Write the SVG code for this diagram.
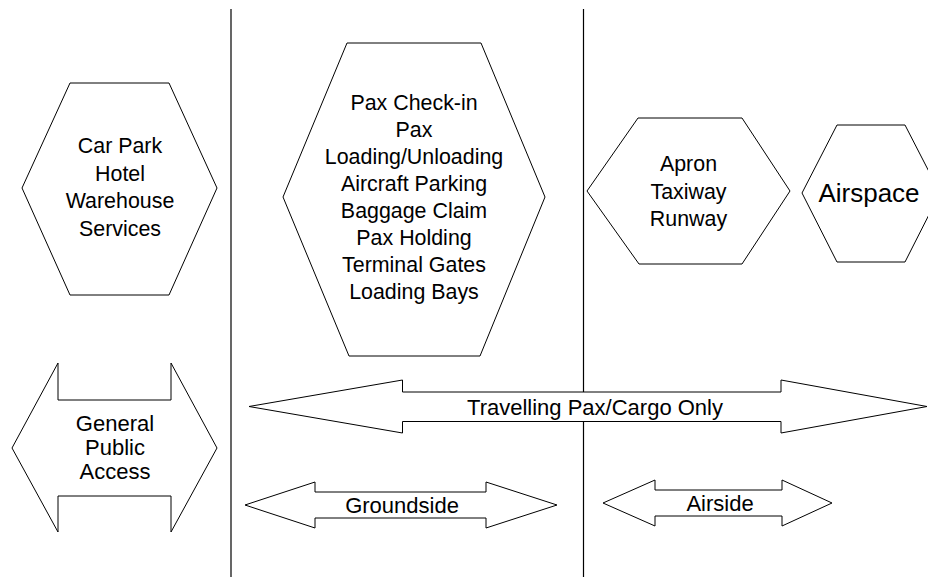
<svg xmlns="http://www.w3.org/2000/svg" width="928" height="577" viewBox="0 0 928 577">
<style>
.shape{fill:#fff;stroke:#000;stroke-width:1;stroke-linejoin:miter}
.div{stroke:#000;stroke-width:1.2;fill:none}
.t{font-family:"Liberation Sans",Arial,sans-serif;font-size:21.4px;fill:#000;text-anchor:middle}
.ta{font-family:"Liberation Sans",Arial,sans-serif;font-size:22px;fill:#000;text-anchor:middle}
</style>
<rect width="928" height="577" fill="#fff"/>
<g id="connectors">
<line class="div" x1="231" y1="9" x2="231" y2="577"/>
<line class="div" x1="583.5" y1="9" x2="583.5" y2="577"/>
</g>
<g id="node-carpark">
<polygon class="shape" points="70,83 169,83 217,188 169,295 70,295 22,188"/>
<text class="t" x="120" y="153">Car Park</text>
<text class="t" x="120" y="180.5">Hotel</text>
<text class="t" x="120" y="208">Warehouse</text>
<text class="t" x="120" y="235.5">Services</text>
</g>
<g id="node-terminal">
<polygon class="shape" points="347,43 481,43 545,197 480,356 349,356 283,197"/>
<text class="t" x="414" y="110">Pax Check-in</text>
<text class="t" x="414" y="137">Pax</text>
<text class="t" x="414" y="164">Loading/Unloading</text>
<text class="t" x="414" y="191">Aircraft Parking</text>
<text class="t" x="414" y="218">Baggage Claim</text>
<text class="t" x="414" y="245">Pax Holding</text>
<text class="t" x="414" y="272">Terminal Gates</text>
<text class="t" x="414" y="299">Loading Bays</text>
</g>
<g id="node-apron">
<polygon class="shape" points="638,118 742,118 790,191 742,264 639,264 587,191"/>
<text class="t" x="688.5" y="171">Apron</text>
<text class="t" x="688.5" y="198.5">Taxiway</text>
<text class="t" x="688.5" y="226">Runway</text>
</g>
<g id="node-airspace">
<polygon class="shape" points="837,125 905,125 940,193 905,262 837,262 802,193"/>
<text class="ta" style="font-size:26px" x="869" y="202">Airspace</text>
</g>
<g id="node-public">
<polygon class="shape" points="12,448 58,363 58,400 171,400 171,363 217,448 171,532 171,496 58,496 58,532"/>
<text class="ta" x="115" y="431">General</text>
<text class="ta" x="115" y="455">Public</text>
<text class="ta" x="115" y="479">Access</text>
</g>
<g id="node-travelling">
<polygon class="shape" points="249,406.5 402.5,380 402.5,392 781,392 781,380 927,406.5 781,433 781,421.5 402.5,421.5 402.5,433"/>
<text class="ta" x="595" y="415">Travelling Pax/Cargo Only</text>
</g>
<g id="node-groundside">
<polygon class="shape" points="245,505 315,482 315,492 486,492 486,482 557,505 486,528 486,518 315,518 315,528"/>
<text class="ta" x="402" y="513">Groundside</text>
</g>
<g id="node-airside">
<polygon class="shape" points="603,503 655,480 655,490 782,490 782,480 832,503 782,526 782,516 655,516 655,526"/>
<text class="ta" x="720" y="510.5">Airside</text>
</g>
</svg>
